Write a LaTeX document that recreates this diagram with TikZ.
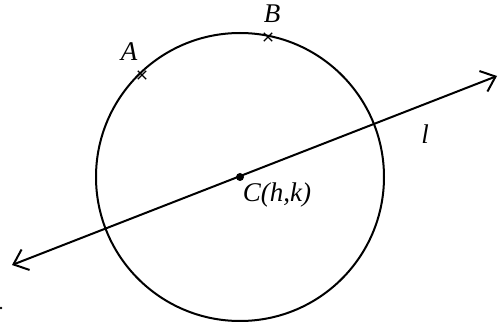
\documentclass[tikz,border=0pt]{standalone}
\usepackage{fontspec}
\setmainfont{Liberation Serif}
\usetikzlibrary{arrows.meta,shapes.misc}
\begin{document}
\begin{tikzpicture}[x=1pt,y=-1pt,
  curve/.style={line width=2pt},
  lbl/.style={font=\fontsize{27}{29}\selectfont\itshape, inner sep=0pt},
  crossmark/.style={cross out, draw, line width=1.4pt, minimum size=7pt, inner sep=0pt}]
\useasboundingbox (0,0) rectangle (504,323);
\coordinate (C) at (240,177);
\draw[curve] (C) circle[radius=144];
\coordinate (P) at (12,265);
\coordinate (Q) at (497,76);
\draw[curve, {Straight Barb[length=13pt,width=22pt,line width=2pt]}-{Straight Barb[length=13pt,width=22pt,line width=2pt]}] (P) -- (Q);
\fill (C) circle[radius=4];
\node[lbl] (LA) at (129,52) {A};
\node[lbl] (LB) at (272,14) {B};
\node[lbl] (Ll) at (425,134) {l};
\node[lbl] (LC) at (277,195) {C(h,k)};
\node[crossmark] (MA) at (142,75) {};
\node[crossmark] (MB) at (268,37) {};
\fill (1,308) circle[radius=1.3];
\end{tikzpicture}
\end{document}
